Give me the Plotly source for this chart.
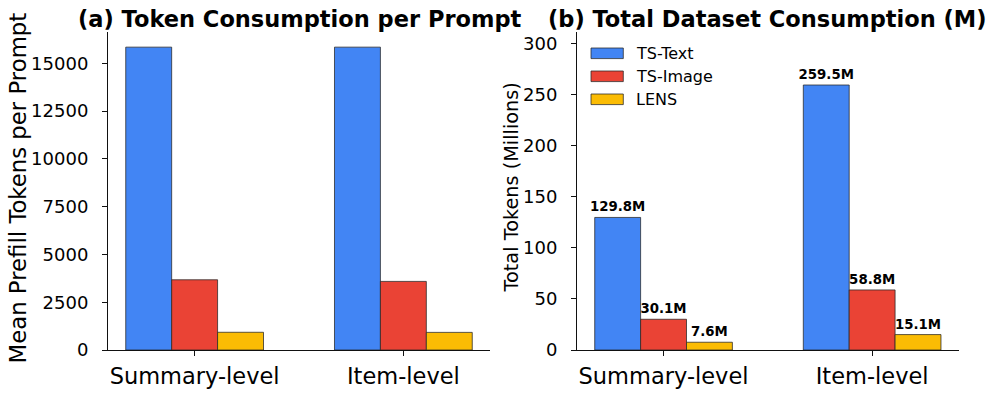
import plotly.graph_objects as go

# ---- data ----
categories = ["Summary-level", "Item-level"]
series_names = ["TS-Text", "TS-Image", "LENS"]
series_colors = ["#4285F4", "#EA4335", "#FBBC04"]

per_prompt_text = [15850, 15850]
per_prompt_image = [3675, 3590]
per_prompt_lens = [928, 922]

total_text = [129.8, 259.5]
total_image = [30.1, 58.8]
total_lens = [7.6, 15.1]

left_ticks = [0, 2500, 5000, 7500, 10000, 12500, 15000]
right_ticks = [0, 50, 100, 150, 200, 250, 300]

W, H = 996, 397
FONT = "DejaVu Sans"


def px(x):
    return x / W


def py(y):
    return 1 - y / H


fig = go.Figure()

per_prompt = [per_prompt_text, per_prompt_image, per_prompt_lens]
totals = [total_text, total_image, total_lens]

for name, color, vals in zip(series_names, series_colors, per_prompt):
    fig.add_trace(go.Bar(
        x=categories, y=vals, name=name, xaxis="x", yaxis="y",
        marker=dict(color=color, line=dict(color="rgba(40,40,40,0.85)", width=0.9)),
        showlegend=False, offsetgroup=name,
    ))

for name, color, vals in zip(series_names, series_colors, totals):
    fig.add_trace(go.Bar(
        x=categories, y=vals, name=name, xaxis="x2", yaxis="y2",
        marker=dict(color=color, line=dict(color="rgba(40,40,40,0.85)", width=0.9)),
        text=[f"{v:.1f}M" for v in vals], textposition="outside",
        textfont=dict(family=FONT, size=13.3, color="black", weight="bold"),
        constraintext="none", cliponaxis=False,
        showlegend=False, offsetgroup=name,
    ))

axis_common = dict(
    showline=True, linecolor="#111", linewidth=1.1, mirror=False,
    ticks="outside", ticklen=5, tickwidth=1.1, tickcolor="#111",
    showgrid=False, zeroline=False, automargin=False,
)

x1d = [px(108), px(490)]
x2d = [px(577), px(958.7)]
yd = [py(350), py(32)]

fig.update_layout(
    width=W, height=H, autosize=False,
    margin=dict(l=0, r=0, t=0, b=0, pad=0),
    paper_bgcolor="white", plot_bgcolor="white",
    barmode="group", bargap=0.34, bargroupgap=0,
    font=dict(family=FONT, color="black"),
    xaxis=dict(domain=x1d, anchor="y", range=[-0.415, 1.415],
               tickfont=dict(size=22.5), ticklabelstandoff=1, **axis_common),
    yaxis=dict(domain=yd, anchor="x", range=[0, max(per_prompt_text) * 1.05],
               tickvals=left_ticks, tickformat="d",
               tickfont=dict(size=18), ticklabelstandoff=10, **axis_common),
    xaxis2=dict(domain=x2d, anchor="y2", range=[-0.415, 1.415],
                tickfont=dict(size=22.5), ticklabelstandoff=1, **axis_common),
    yaxis2=dict(domain=yd, anchor="x2", range=[0, max(total_text) * 1.2],
                tickvals=right_ticks, tickformat="d",
                tickfont=dict(size=18), ticklabelstandoff=10, **axis_common),
)

annotations = [
    dict(text="(a) Token Consumption per Prompt", x=(x1d[0] + x1d[1]) / 2, y=py(19),
         xref="paper", yref="paper", showarrow=False, xanchor="center", yanchor="middle",
         font=dict(size=22.5, weight="bold", family=FONT, color="black")),
    dict(text="(b) Total Dataset Consumption (M)", x=(x2d[0] + x2d[1]) / 2, y=py(19),
         xref="paper", yref="paper", showarrow=False, xanchor="center", yanchor="middle",
         font=dict(size=22.5, weight="bold", family=FONT, color="black")),
    dict(text="Mean Prefill Tokens per Prompt", x=px(17.5), y=py(188), textangle=-90,
         xref="paper", yref="paper", showarrow=False, xanchor="center", yanchor="middle",
         font=dict(size=22.8, family=FONT, color="black")),
    dict(text="Total Tokens (Millions)", x=px(511), y=py(187.5), textangle=-90,
         xref="paper", yref="paper", showarrow=False, xanchor="center", yanchor="middle",
         font=dict(size=19.3, family=FONT, color="black")),
]

# manual legend (patches + labels) inside panel (b)
shapes = []
row_y = [53.3, 76.3, 99.3]
for name, color, ry in zip(series_names, series_colors, row_y):
    shapes.append(dict(type="rect", xref="paper", yref="paper",
                       x0=px(591), x1=px(623.3), y0=py(ry + 5.3), y1=py(ry - 5.3),
                       fillcolor=color, line=dict(color="rgba(40,40,40,0.85)", width=0.9)))
    annotations.append(dict(text=name, x=px(634), y=py(ry), xref="paper", yref="paper",
                            showarrow=False, xanchor="left", yanchor="middle",
                            font=dict(size=16, family=FONT, color="black")))

fig.update_layout(annotations=annotations, shapes=shapes)

fig.write_html(
    "out.html",
    config={"displayModeBar": False, "responsive": False},
    post_script="document.body.style.margin='0';document.body.style.overflow='hidden';",
)
